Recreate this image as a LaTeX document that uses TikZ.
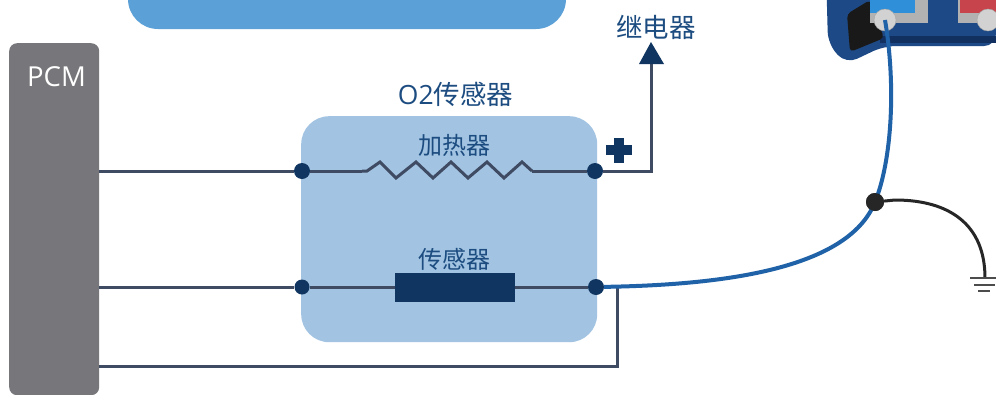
\documentclass[tikz,border=0pt]{standalone}
\usepackage{fontspec}
\setmainfont{Noto Sans CJK SC}
\newfontfamily\latinf{Open Sans}
\usetikzlibrary{arrows.meta,decorations.pathmorphing}
\definecolor{navy}{HTML}{0F3560}
\definecolor{wire}{HTML}{3F4A63}
\definecolor{txtblue}{HTML}{1C4C80}
\definecolor{boxblue}{HTML}{A2C4E2}
\definecolor{topblue}{HTML}{5BA1D8}
\definecolor{pcmgray}{HTML}{77767A}
\definecolor{cable}{HTML}{1F62A8}
\definecolor{devblue}{HTML}{1D4A86}
\definecolor{devdark}{HTML}{12305F}
\definecolor{devlight}{HTML}{2F8FD8}
\definecolor{devred}{HTML}{C8444C}
\tikzset{
  x=1pt,y=-1pt,
  wireline/.style={draw=wire,line width=3pt},
  junction/.style={circle,fill=navy,inner sep=0pt,minimum size=16pt},
  lbl/.style={text=txtblue,inner sep=0pt,font=\fontsize{26.5}{30}\selectfont},
  mid/.style={text=txtblue,inner sep=0pt,font=\fontsize{24}{28}\selectfont},
  cableline/.style={draw=cable,line width=4pt},
  gnd/.style={draw=black!85,line width=3pt},
  gndbar/.style={draw=black!70,line width=2pt},
}
\begin{document}
\begin{tikzpicture}
\useasboundingbox (0,0) rectangle (996,394);
\fill[white] (0,0) rectangle (996,394);
% top banner
\fill[topblue,rounded corners=30pt] (128,-50) rectangle (566,29);
% PCM
\node[draw=none,fill=pcmgray,rounded corners=8pt,minimum width=90pt,minimum height=352pt,inner sep=0pt,anchor=north west] (pcm) at (9,43) {};
\node[text=white,inner sep=0pt,anchor=center,font=\latinf\fontsize{27.5}{30}\selectfont] (pcmt) at (56.5,77) {PCM};
% sensor box
\node[fill=boxblue,rounded corners=28pt,minimum width=296pt,minimum height=226pt,inner sep=0pt,anchor=north west] (box) at (301,116) {};
\node[lbl] (title) at (455.5,94) {{\latinf O2}传感器};
\node[mid] (heat) at (454,145) {加热器};
\node[mid] (sens) at (454,259) {传感器};
\node[lbl] (relay) at (656,27) {继电器};
% junctions
\node[junction] (a1) at (302,171) {};
\node[junction] (a2) at (595,171) {};
\node[junction,minimum size=15pt] (b1) at (302,287) {};
\node[junction] (b2) at (596,287) {};
\node[fill=navy,minimum width=120pt,minimum height=29pt,inner sep=0pt] (res) at (455,287) {};
\coordinate (p1) at (99,171);
\coordinate (p2) at (99,287);
\coordinate (p3) at (99,366);
\coordinate (h1) at (362,171);
\coordinate (h2) at (532,171);
\coordinate (t1) at (651,171);
\coordinate (tip) at (651,50);
\coordinate (j3) at (617,287);
\coordinate (c3) at (617,366);
\draw[wireline] (p1) -- (a1) -- (h1);
\draw[wireline] (h1) -- (367,171) -- (380,162) -- (396,178) -- (416,162) -- (433,178) -- (451,162) -- (468,178) -- (487,162) -- (504,178) -- (522,162) -- (532,171);
\draw[wireline] (h2) -- (a2) -- (t1) -- (tip);
\fill[navy] (651,42) -- (664,64) -- (639,64) -- cycle;
\node[fill=navy,minimum width=26pt,minimum height=10pt,inner sep=0pt] (plusa) at (619,150) {};
\node[fill=navy,minimum width=10pt,minimum height=25pt,inner sep=0pt] (plusb) at (619,150) {};
\draw[wireline] (p2) -- (b1) -- (res) -- (b2);
\draw[wireline] (p3) -- (c3) -- (j3);
% device
\fill[devblue,rounded corners=12pt] (826,-30) -- (828,44) -- (846,64) -- (884,46) -- (996,46) -- (996,-30) -- cycle;
\fill[devdark] (880,36) rectangle (996,43);
\fill[black!90,rounded corners=4pt] (847,14) -- (870,0) -- (884,38) -- (850,52) -- cycle;
\fill[gray!60] (870,-2) rectangle (928,23);
\fill[devlight] (870,-2) rectangle (915,13);
\fill[gray!60] (958,-2) rectangle (996,23);
\fill[devred] (960,-2) rectangle (996,13);
\node[circle,fill=gray!35,draw=gray!70,minimum size=22pt,inner sep=0pt] (conn) at (885,20) {};
\node[circle,fill=gray!35,draw=gray!70,minimum size=22pt,inner sep=0pt] (conn2) at (988,20) {};
% cable
\node[circle,fill=black!85,inner sep=0pt,minimum size=18pt] (jn) at (875,202) {};
\draw[cableline] (b2) .. controls (720,285) and (848,270) .. (jn.center) .. controls (892,160) and (896,85) .. (conn.center);
\draw[gnd] (jn) -- (895,200) .. controls (950,200) and (985,225) .. (985,278);
\draw[gndbar] (970,278) -- (996,278);
\draw[gndbar] (974,284.5) -- (995,284.5);
\draw[gndbar] (978,290.5) -- (990,290.5);
\node[circle,fill=black!85,inner sep=0pt,minimum size=18pt] (jn2) at (jn) {};
\end{tikzpicture}
\end{document}
